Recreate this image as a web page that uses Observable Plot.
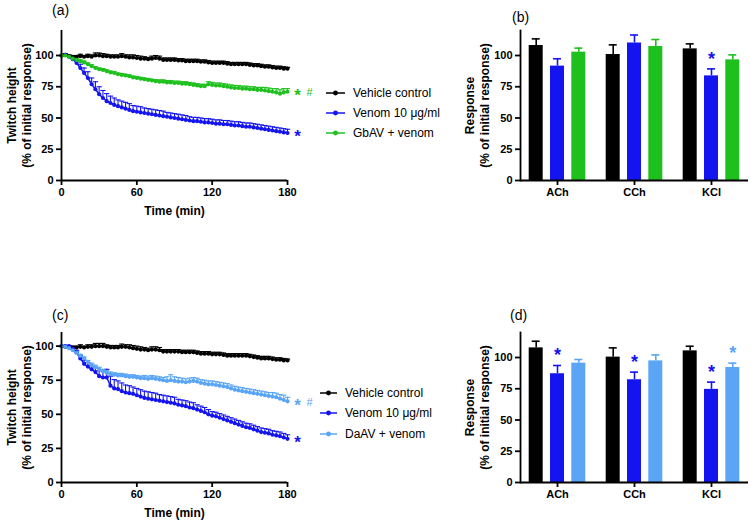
<!DOCTYPE html>
<html>
<head>
<meta charset="utf-8">
<script src="https://cdn.jsdelivr.net/npm/d3@7"></script>
<script src="https://cdn.jsdelivr.net/npm/@observablehq/plot@0.6"></script>
<style>
  body { margin: 0; background: white; }
  #root { position: relative; width: 751px; height: 526px; background: white; font-family: "Liberation Sans", Arial, sans-serif; overflow: hidden; }
  .abs { position: absolute; }
  .plabel { position: absolute; font-size: 14px; line-height: 1; color: #000; }
  .legend { position: absolute; font-size: 12px; color: #000; }
  .legend .row { display: flex; align-items: center; height: 14px; position: absolute; left: 0; white-space: nowrap; }
  .legend svg { margin-right: 8px; }
</style>
</head>
<body>
<div id="root"></div>
<script>
// ---------------- DATA ----------------
const times = [0,3,6,9,12,15,18,21,24,27,30,33,36,39,42,45,48,51,54,57,60,63,66,69,72,75,78,81,84,87,90,93,96,99,102,105,108,111,114,117,120,123,126,129,132,135,138,141,144,147,150,153,156,159,162,165,168,171,174,177,180];
const xTicks = [0, 60, 120, 180];
const yTicks = [0, 25, 50, 75, 100];

const seriesNamesA = ["Vehicle control", "Venom 10 μg/ml", "GbAV + venom"];
const seriesNamesC = ["Vehicle control", "Venom 10 μg/ml", "DaAV + venom"];
const colorsA = ["#000000", "#1414f0", "#1ec01e"];
const colorsC = ["#000000", "#1414f0", "#5aa5f5"];

// Panel (a)
const aVehicle = [100,100.5,99.5,99,99,99.5,99,99.5,99,100, 100,99.5,99.5,99,99,99,99.5,99,98.5,98.5, 98,97.5,97.5,97,97.5,98,97.5,96.5,96.5,96.5, 96.5,96,96,95.5,95.5,95.5,95.5,95,95,94.5, 94,94,94,94,93.5,93,93,93,93,93, 92.5,92,92,91.5,91,91,90.5,90,90,89.5, 89.5];
const aVehicleErr = [0,1,1,1,1,1.5,1,1.5,1.5,2, 2,2,1.5,1.5,1.5,1.5,2,1.5,2,2, 2,2,1.5,1.5,2,2,2,1.5,1.5,1.5, 1.5,1.5,1.5,1.5,1.5,1.5,1.5,1.5,1.5,1.5, 1.5,1.5,1.5,1.5,1.5,1.5,1.5,1.5,1.5,1.5, 1.5,1.5,1.5,1.5,1.5,1.5,1.5,1.5,1.5,1.5, 1];
const aVenom = [100,100.5,99,97,94,90,86,82,77,73, 69,66,63.5,62,60.5,59.5,58.5,57.5,56.5,55.5, 55,54.5,54,53.5,53,52.5,52,51.5,51,50.5, 50,49.5,49,48.5,48,47.5,47.5,47,46.5,46.5, 46,45.5,45.5,45,45,44.5,44,44,43.5,43, 43,42.5,42,41.5,41,40.5,40,39.5,39,38.5, 38];
const aVenomErr = [0,0.5,0.5,1,2,3,4,5,5,6, 6,6,6,5.5,5.5,5,5,5,5,4.5, 4.5,4.5,4,4,4,4,4,4,3.5,3.5, 3.5,3.5,3.5,3.5,3,3,3,3,3,3, 3,3,3,3,3,3,3,3,3,3, 3,3,3,3,3,3,3,3,3,3, 3];
const aGbAV = [100,100,99,97.5,96.5,95.5,94.5,93,91.5,90, 89,88.5,87.5,86.5,86,85,84.5,84,83.5,82.5, 82,81.5,81,80.5,80,79.5,79,79,78.5,78.5, 78,78,77.5,77.5,77,76.5,76,75.5,75.5,77, 76.5,76,76,75.5,75,74.5,74,74,73.5,73.5, 73,73,72.5,72.5,72,71.5,71,70.5,69.5,70.5, 71];
const aGbAVErr = [0,0.5,0.5,0.5,1,1,1,1,1,1, 1,1,1,1,1,1,1,1,1,1, 1,1,1,1,1,1,1.5,1.5,1.5,1.5, 1.5,1.5,1.5,1.5,1.5,1.5,1.5,1.5,1.5,2, 2,2,2,2,2,2,2,2,2,2, 2,2,2,2,2.5,2.5,2.5,3,3,3, 2.5];
const aEndStar = ["", "*", "*"];
const aEndHash = ["", "", "#"];

// Panel (c)
const cVehicle = [100,99.5,99,99,99,99.5,99,99.5,99.5,100, 100,100,99.5,99,99,99,99.5,99.5,99,98.5, 98,97.5,97.5,97,97.5,97.5,97,96,96,96, 96,96,95.5,95.5,95.5,95.5,95,94.5,94.5,94.5, 94,94,94,93.5,93,93,93,93,93,93, 92.5,92,91.5,91,91,91,90.5,90,90,89.5, 89.5];
const cVehicleErr = [0,1,1,1,1,1.5,1,1.5,1.5,2, 2,2,1.5,1.5,1.5,1.5,2,1.5,2,2, 2,2,1.5,1.5,2,2,2,1.5,1.5,1.5, 1.5,1.5,1.5,1.5,1.5,1.5,1.5,1.5,1.5,1.5, 1.5,1.5,1.5,1.5,1.5,1.5,1.5,1.5,1.5,1.5, 1.5,1.5,1.5,1.5,1.5,1.5,1.5,1.5,1.5,1.5, 1];
const cVenom = [100,100,100,98,95.5,91,87,85,83,81, 78,77,77,71,69,68.5,67,66,65.5,65, 64,63,62,61.5,61,60.5,60,59.5,59,58.5, 58,57,56.5,56,55,54.5,53.5,52.5,51.5,50, 49,48.5,47.5,46.5,45.5,44.5,43.5,42.5,41.5,40.5, 40,39,38,37,36.5,36,35,34.5,34,33, 32];
const cVenomErr = [0,0.5,0.5,1,1.5,2,2.5,3,3,3.5, 4,5,6,7,6.5,6,6,5.5,5.5,5, 5,5,5,5,5,5,4.5,4.5,4.5,4.5, 4.5,4,4,4,4,4,3.5,3.5,3.5,3.5, 3,3,3,3,3,3,3,3,3,3, 3,3,3,3,3,3,3,3,3,3, 3];
const cDaAV = [100,99.5,98.5,97,95,93,91,88.5,86,84.5, 83,81.5,80.5,79.5,79,78.5,78.5,78,77.5,77.5, 77,76.5,76.5,76,76.5,76,75.5,75,74.5,75, 74.5,74,74,73.5,74,74.5,74,73,72.5,72, 72,71.5,71,70.5,70,69,68,67.5,67,66.5, 66,65.5,65,64.5,64,63.5,63,62.5,61.5,60.5, 59.5];
const cDaAVErr = [0,0.5,0.5,1,1,1,1,1,1.5,1.5, 1.5,1.5,1.5,1.5,1.5,1.5,1.5,1.5,1.5,1.5, 1.5,1.5,2,2,2,2,2,2,3,4, 3,3,2.5,2.5,2.5,2.5,2.5,2.5,2.5,2.5, 2.5,2.5,2.5,2.5,2.5,2.5,2.5,2.5,2.5,2.5, 2.5,2.5,2.5,2.5,2.5,2.5,3,3,3,3.5, 3];
const cEndStar = ["", "*", "*"];
const cEndHash = ["", "", "#"];

// Bar panels
const agonists = ["ACh", "CCh", "KCl"];
const bVehicle = [108, 100.8, 105.3];
const bVehicleErr = [5.3, 7.7, 4];
const bVenom = [91.5, 110, 83.7];
const bVenomErr = [5.9, 6.4, 5.6];
const bGbAV = [102.7, 107.2, 96.5];
const bGbAVErr = [3.2, 5.6, 4];
const bStarsVehicle = ["", "", ""];
const bStarsVenom = ["", "", "*"];
const bStarsGbAV = ["", "", ""];

const dVehicle = [107.7, 100.3, 105.3];
const dVehicleErr = [5.3, 7.4, 3.7];
const dVenom = [87, 82.2, 74.5];
const dVenomErr = [6.6, 6.1, 5.8];
const dDaAV = [95.5, 97.3, 92];
const dDaAVErr = [2.9, 4.8, 3.5];
const dStarsVehicle = ["", "", ""];
const dStarsVenom = ["*", "*", "*"];
const dStarsDaAV = ["", "", "*"];

// ---------------- HELPERS ----------------
const FONT = '"Liberation Sans", Arial, sans-serif';
const root = document.getElementById("root");

const capSymbol = {
  draw(ctx, size) {
    const w = Math.sqrt(size) / 2;
    ctx.moveTo(-w, 0);
    ctx.lineTo(w, 0);
  }
};

function seriesRows(name, vals, errs) {
  return times.map((t, i) => ({t, v: vals[i], e: errs[i], series: name}));
}

function place(node, left, top) {
  const d = document.createElement("div");
  d.className = "abs";
  d.style.left = left + "px";
  d.style.top = top + "px";
  d.appendChild(node);
  root.appendChild(d);
}

function linePanel({names, colors, vals, errs, stars, hashes, yMax, height, marginTop, marginBottom}) {
  const rows = names.flatMap((n, k) => seriesRows(n, vals[k], errs[k]));
  const ends = names.map((n, k) => ({t: times[times.length - 1], v: vals[k][vals[k].length - 1], series: n, star: stars[k], hash: hashes[k]}));
  return Plot.plot({
    width: 320, height, marginLeft: 61, marginRight: 33, marginTop, marginBottom,
    style: {fontFamily: FONT, fontSize: "11px", fontWeight: "bold", background: "transparent", overflow: "visible", color: "#000"},
    x: {domain: [0, 180]},
    y: {domain: [0, yMax]},
    color: {domain: names, range: colors},
    marks: [
      Plot.ruleX(rows, {x: "t", y1: "v", y2: d => d.v + d.e, stroke: "series", strokeWidth: 1.1}),
      Plot.dot(rows, {x: "t", y: d => d.v + d.e, symbol: capSymbol, r: 3, stroke: "series", strokeWidth: 1.1}),
      Plot.line(rows, {x: "t", y: "v", z: "series", stroke: "series", strokeWidth: 1.5}),
      Plot.dot(rows, {x: "t", y: "v", fill: "series", r: 2.1}),
      Plot.ruleX([0], {strokeWidth: 1.8}),
      Plot.ruleY([0], {strokeWidth: 1.8}),
      Plot.axisX({ticks: xTicks, tickSize: 5, tickPadding: 3, strokeWidth: 1.8, label: null}),
      Plot.axisY({ticks: yTicks, tickSize: 5, tickPadding: 3, strokeWidth: 1.8, label: null}),
      Plot.text(["Time (min)"], {text: d => d, frameAnchor: "bottom", dy: 34, fontSize: 12}),
      Plot.text(["Twitch height\n(% of initial response)"], {text: d => d, frameAnchor: "left", textAnchor: "middle", lineAnchor: "middle", rotate: -90, dx: -43, fontSize: 12, lineHeight: 1.3}),
      Plot.text(ends, {x: "t", y: "v", text: "star", fill: "series", dx: 10, dy: 4, fontSize: 17}),
      Plot.text(ends, {x: "t", y: "v", text: "hash", fill: "series", dx: 22, dy: 1, fontSize: 11, fontWeight: "normal"})
    ]
  });
}

function barPanel({colors, vals, errs, stars, yMax, height, marginTop, marginBottom}) {
  const offsets = [-21.3, 0, 21.3];
  const marks = [];
  vals.forEach((arr, k) => {
    const rows = agonists.map((c, i) => ({cat: c, v: arr[i], e: errs[k][i], star: stars[k][i]}));
    const dx = offsets[k];
    marks.push(
      Plot.ruleX(rows, {x: "cat", y1: "v", y2: d => d.v + d.e, stroke: colors[k], strokeWidth: 1.6, dx}),
      Plot.tickY(rows, {x: "cat", y: d => d.v + d.e, stroke: colors[k], strokeWidth: 1.6, insetLeft: 3, insetRight: 3, dx}),
      Plot.barY(rows, {x: "cat", y: "v", fill: colors[k], dx}),
      Plot.text(rows, {x: "cat", y: d => d.v + d.e, text: "star", fill: colors[k], dx, dy: -10, fontSize: 18})
    );
  });
  return Plot.plot({
    width: 311, height, marginLeft: 80, marginRight: 3, marginTop, marginBottom,
    style: {fontFamily: FONT, fontSize: "11px", fontWeight: "bold", background: "transparent", overflow: "visible", color: "#000"},
    x: {domain: agonists, paddingInner: 0.818, paddingOuter: 0.389},
    y: {domain: [0, yMax]},
    marks: [
      ...marks,
      Plot.ruleY([0], {strokeWidth: 1.8}),
      Plot.frame({anchor: "left", strokeWidth: 1.8}),
      Plot.axisX({tickSize: 5, tickPadding: 3, strokeWidth: 1.8, label: null}),
      Plot.axisY({ticks: yTicks, tickSize: 5, tickPadding: 3, strokeWidth: 1.8, label: null}),
      Plot.text(["Response\n(% of initial response)"], {text: d => d, frameAnchor: "left", textAnchor: "middle", lineAnchor: "middle", rotate: -90, dx: -44, fontSize: 12, lineHeight: 1.3})
    ]
  });
}

function legend(names, colors, left, tops, textLeft) {
  const box = document.createElement("div");
  box.className = "legend";
  box.style.left = left + "px";
  box.style.top = "0px";
  names.forEach((n, k) => {
    const row = document.createElement("div");
    row.className = "row";
    row.style.top = (tops[k] - 7) + "px";
    const w = textLeft - left - 8;
    row.innerHTML = `<svg width="${w}" height="10"><line x1="0" x2="${w}" y1="5" y2="5" stroke="${colors[k]}" stroke-width="1.5"/><circle cx="${w/2}" cy="5" r="2.4" fill="${colors[k]}"/></svg><span>${n}</span>`;
    box.appendChild(row);
  });
  root.appendChild(box);
}

function panelLabel(txt, left, top) {
  const d = document.createElement("div");
  d.className = "plabel";
  d.style.left = left + "px";
  d.style.top = top + "px";
  d.textContent = txt;
  root.appendChild(d);
}

// ---------------- BUILD ----------------
place(linePanel({
  names: seriesNamesA, colors: colorsA,
  vals: [aVehicle, aVenom, aGbAV], errs: [aVehicleErr, aVenomErr, aGbAVErr],
  stars: aEndStar, hashes: aEndHash,
  yMax: 120, height: 225, marginTop: 30, marginBottom: 45
}), 0, 0);

place(barPanel({
  colors: colorsA,
  vals: [bVehicle, bVenom, bGbAV], errs: [bVehicleErr, bVenomErr, bGbAVErr],
  stars: [bStarsVehicle, bStarsVenom, bStarsGbAV],
  yMax: 120, height: 225, marginTop: 30, marginBottom: 45
}), 440, 0);

place(linePanel({
  names: seriesNamesC, colors: colorsC,
  vals: [cVehicle, cVenom, cDaAV], errs: [cVehicleErr, cVenomErr, cDaAVErr],
  stars: cEndStar, hashes: cEndHash,
  yMax: 110, height: 226, marginTop: 32, marginBottom: 44
}), 0, 300);

place(barPanel({
  colors: colorsC,
  vals: [dVehicle, dVenom, dDaAV], errs: [dVehicleErr, dVenomErr, dDaAVErr],
  stars: [dStarsVehicle, dStarsVenom, dStarsDaAV],
  yMax: 120, height: 226, marginTop: 32, marginBottom: 44
}), 440, 300);

legend(seriesNamesA, colorsA, 326, [93, 113, 133], 353);
legend(seriesNamesC, colorsC, 320, [393, 413, 434], 345);

panelLabel("(a)", 52, 3);
panelLabel("(b)", 512, 10);
panelLabel("(c)", 52, 308);
panelLabel("(d)", 510, 308);
</script>
</body>
</html>
